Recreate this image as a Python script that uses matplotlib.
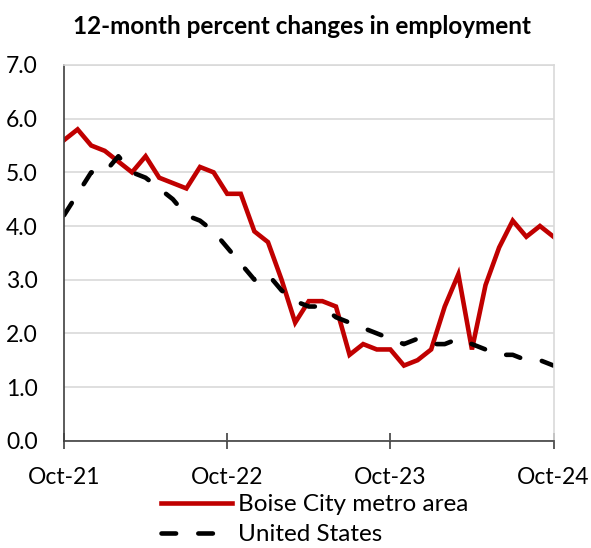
import numpy as np
import matplotlib
matplotlib.use("Agg")
import matplotlib.pyplot as plt

# 12-month percent change, Oct-21 .. Oct-24 (monthly)
boise = [5.6, 5.8, 5.5, 5.4, 5.2, 5.0, 5.3, 4.9, 4.8, 4.7, 5.1, 5.0,
         4.6, 4.6, 3.9, 3.7, 3.0, 2.2, 2.6, 2.6, 2.5, 1.6, 1.8, 1.7,
         1.7, 1.4, 1.5, 1.7, 2.5, 3.1, 1.7, 2.9, 3.6, 4.1, 3.8, 4.0, 3.8]
us = [4.2, 4.6, 5.0, 5.0, 5.3, 5.0, 4.9, 4.7, 4.5, 4.2, 4.1, 3.9,
      3.6, 3.3, 3.0, 3.1, 2.8, 2.6, 2.5, 2.5, 2.3, 2.2, 2.1, 2.0,
      1.9, 1.8, 1.9, 1.8, 1.8, 1.9, 1.8, 1.7, 1.6, 1.6, 1.5, 1.5, 1.4]
tick_labels = ["Oct-21", "Oct-22", "Oct-23", "Oct-24"]
y_ticks = [0, 1, 2, 3, 4, 5, 6, 7]

plt.rcParams['font.family'] = ['Lato', 'DejaVu Sans']
plt.rcParams['lines.scale_dashes'] = False

months = np.arange(len(boise))

fig = plt.figure(figsize=(5.91, 5.48), dpi=100)
ax = fig.add_axes([0.1083, 0.1958, 0.8283, 0.6856])

ax.plot(months, boise, color='#C00000', linewidth=3.3, label='Boise City metro area',
        solid_joinstyle='miter')
ax.plot(months, us, color='black', linewidth=3.3, dashes=(10.5, 16),
        dash_capstyle='round', label='United States')

ax.set_xlim(0, 36)
ax.set_ylim(0, 7)
ax.set_xticks([0, 12, 24, 36])
ax.set_xticklabels(tick_labels)
ax.set_yticks(y_ticks)
ax.set_yticklabels([f"{v:.1f}" for v in y_ticks])

ax.grid(axis='y', color='#D9D9D9', linewidth=1.2)
ax.set_axisbelow(True)
for side in ['top', 'right']:
    ax.spines[side].set_color('#D9D9D9')
    ax.spines[side].set_linewidth(1.2)
ax.spines['left'].set_color('#404040')
ax.spines['bottom'].set_color('#404040')
ax.spines['left'].set_linewidth(1.2)
ax.spines['bottom'].set_linewidth(1.2)

ax.tick_params(axis='y', length=0, pad=19, labelsize=16.5)
ax.tick_params(axis='x', direction='inout', length=11.5, width=1.2, color='#404040',
               pad=13, labelsize=16.5)

fig.text(0.511, 1 - 27 / 548, '12-month percent changes in employment',
         ha='center', va='center', fontsize=17.5, fontweight='bold')

fig.legend(loc='upper left', bbox_to_anchor=(161 / 591, 1 - 494 / 548),
           frameon=False, fontsize=17.5, handlelength=2.92, handletextpad=0.25,
           borderpad=0, borderaxespad=0, labelspacing=0.38)

fig.savefig('out.png', dpi=100)
